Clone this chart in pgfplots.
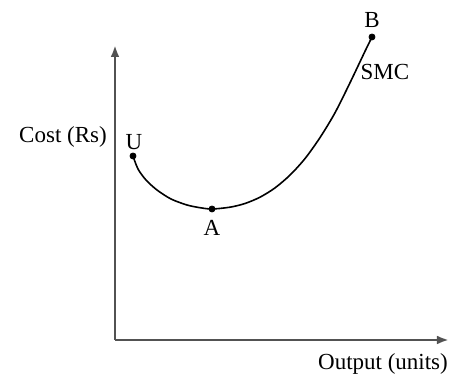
\documentclass[border=0pt]{standalone}
\usepackage{fontspec}
\setmainfont{Liberation Serif}
\usepackage{pgfplots}
\pgfplotsset{compat=1.18}
\usetikzlibrary{arrows.meta}
\begin{document}
\fontsize{11.5}{13}\selectfont
\begin{tikzpicture}
\begin{axis}[
  scale only axis, width=167pt, height=147.5pt,
  xmin=0, xmax=334, ymin=0, ymax=295,
  axis lines=left,
  axis line style={-{Latex[length=6pt,width=4.4pt]}, line width=1.2pt, color=black!68},
  xtick=\empty, ytick=\empty,
  clip=false,
]
\addplot[black, line width=0.8pt, smooth, tension=0.5] coordinates {
 (18,184) (23,171) (31,160) (42,150) (56,141) (72,135) (85,132.3) (97,131)
 (115,132.8) (130,136.5) (145,142.8) (160,152.1) (175,164.9) (190,181.4)
 (205,202.4) (220,227.2) (235,257.2) (250,288.7) (257,303)
};
\addplot[only marks, mark=*, mark size=1.5pt, black] coordinates {(18,184) (97,131) (257,303)};
\node at (axis cs:19,198) {U};
\node at (axis cs:97,112) {A};
\node at (axis cs:257,320) {B};
\node at (axis cs:270,268) {SMC};
\node at (axis cs:-52,203) {Cost (Rs)};
\node at (axis cs:268,-24) {Output (units)};
\path (axis cs:-115,-36) rectangle (axis cs:341,340);
\end{axis}
\end{tikzpicture}
\end{document}
